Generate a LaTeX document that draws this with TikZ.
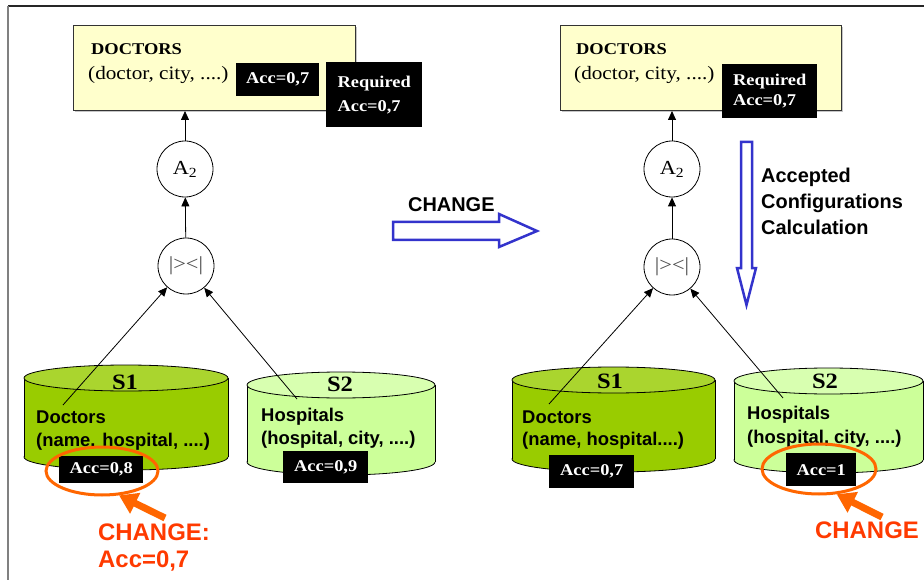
\documentclass[tikz,border=0pt]{standalone}
\usepackage{fontspec}
\setmainfont[FakeStretch=1.12]{Liberation Serif}
\setsansfont{Liberation Sans}
\usetikzlibrary{arrows.meta,shadows,shapes.geometric}

\definecolor{noteyellow}{HTML}{FFFFCC}
\definecolor{srcdark}{HTML}{99CC00}
\definecolor{srcdarktop}{HTML}{AAD52E}
\definecolor{srclight}{HTML}{CCFF99}
\definecolor{srclighttop}{HTML}{D8FFB0}
\definecolor{changeblue}{HTML}{3333CC}
\definecolor{markorange}{HTML}{FF6600}
\definecolor{textorange}{HTML}{FF3A00}

\tikzset{
  relbox/.style={draw=black!80, line width=1bp, fill=noteyellow, anchor=north west,
    inner sep=0pt, drop shadow={shadow xshift=1.5bp, shadow yshift=-1.5bp, opacity=0.45}},
  reltitle/.style={font=\bfseries\fontsize{16.5}{19}\selectfont, anchor=base west, inner sep=0pt},
  relattr/.style={font=\fontsize{19}{22}\selectfont, anchor=base west, inner sep=0pt},
  blackbox/.style={fill=black, text=white, font=\bfseries\fontsize{16.5}{19}\selectfont,
    inner sep=0pt, align=left, anchor=north west},
  opnode/.style={circle, draw, line width=0.8bp, minimum size=56bp, inner sep=0pt,
    fill=white, font=\fontsize{20}{22}\selectfont},
  conn/.style={line width=0.8bp, -{Triangle[length=9bp,width=8bp]}},
  cyltext/.style={font=\sffamily\bfseries\fontsize{18.5}{22}\selectfont, anchor=base west, inner sep=0pt},
  cyllabel/.style={font=\bfseries\fontsize{22}{26}\selectfont, anchor=base, inner sep=0pt},
  hollowarrow/.style={draw=changeblue, line width=2.5bp, fill=white, line join=miter},
  markring/.style={draw=markorange, line width=3bp},
  markarrow/.style={draw=markorange, line width=7bp, -{Triangle[length=18bp,width=22bp]}},
  changetext/.style={text=textorange, font=\sffamily\bfseries\fontsize{24}{28}\selectfont,
    anchor=base west, inner sep=0pt},
  sidetext/.style={font=\sffamily\bfseries\fontsize{20}{24}\selectfont, anchor=base west, inner sep=0pt}
}

% database cylinder: centre x, half width, top rim y, bottom rim y, body colour, lid colour
\newcommand\dbcylinder[6]{%
  \filldraw[fill=#5, line width=0.8bp] (#1,#4) ellipse[x radius=#2, y radius=13];
  \fill[#5] (#1-#2,#3) rectangle (#1+#2,#4);
  \draw[line width=0.8bp] (#1-#2,#3) -- (#1-#2,#4);
  \draw[line width=0.8bp] (#1+#2,#3) -- (#1+#2,#4);
  \filldraw[fill=#6, line width=0.8bp] (#1,#3) ellipse[x radius=#2, y radius=13];
}

\begin{document}
\begin{tikzpicture}[x=1bp, y=-1bp]
\useasboundingbox (0,0) rectangle (924,580);

% slide frame
\draw[line width=1.3bp, black!85] (8,6) -- (924,6);
\draw[line width=1.3bp, black!50] (8,6) -- (8,580);

% ---------------- before the change ----------------
\node[relbox, minimum width=282bp, minimum height=85bp] (doc1) at (73,25) {};
\node[reltitle] (doc1t) at (91,55) {DOCTORS};
\node[relattr] (doc1a) at (88,80) {(doctor, city, ....)};
\node[blackbox, minimum width=83bp, minimum height=33bp, align=center] (acc1) at (236,63) {Acc=0,7};
\node[blackbox, minimum width=96bp, minimum height=65bp] (req1) at (326,62) {Required\\[5bp]Acc=0,7};

\node[opnode] (a21) at (185,169) {A\textsubscript{2}};
\node[opnode, text=black!70] (j1) at (186,266) {|><|};

\dbcylinder{126}{102}{378}{457}{srcdark}{srcdarktop}
\dbcylinder{341}{94}{385}{462}{srclight}{srclighttop}

\node[cyllabel] (s1a) at (125,389) {S1};
\node[cyltext] (s1at) at (36,423) {Doctors};
\node[cyltext] (s1aa) at (36,446) {(name. hospital, ....)};
\node[cyllabel] (s2a) at (340,391) {S2};
\node[cyltext] (s2at) at (261,421) {Hospitals};
\node[cyltext] (s2aa) at (261,444) {(hospital, city, ....)};

\node[blackbox, minimum width=84bp, minimum height=27bp, align=center] (accs1a) at (59,456) {Acc=0,8};
\node[blackbox, minimum width=85bp, minimum height=32bp, align=center] (accs2a) at (283,451) {Acc=0,9};

\coordinate (s1ain) at (63,405);
\coordinate (s2ain) at (297,399);
\draw[conn] (s1ain) -- (j1);
\draw[conn] (s2ain) -- (j1);
\draw[conn] (j1) -- (a21);
\draw[conn] (a21) -- (a21 |- doc1.south);

\node[markring, ellipse, minimum width=112bp, minimum height=48bp, inner sep=0pt] (ring1) at (102,471) {};
\coordinate (mk1) at (165,518);
\draw[markarrow] (mk1) -- (ring1.-55);
\node[changetext] (ch1) at (98,540) {CHANGE:};
\node[changetext] (ch1b) at (98,567) {Acc=0,7};

% ---------------- transition ----------------
\draw[hollowarrow] (393,222) -- (499,222) -- (499,214) -- (537,231) -- (499,247)
  -- (499,240) -- (393,240) -- cycle;
\node[sidetext] (chg) at (408,212) {CHANGE};

\draw[hollowarrow] (741,142) -- (752,142) -- (752,268) -- (756,268) -- (746.5,305)
  -- (737,268) -- (741,268) -- cycle;
\node[sidetext] (acc) at (761,183) {Accepted};
\node[sidetext] (cfg) at (761,209) {Configurations};
\node[sidetext] (calc) at (761,235) {Calculation};

% ---------------- after the change ----------------
\node[relbox, minimum width=281bp, minimum height=85bp] (doc2) at (560,25) {};
\node[reltitle] (doc2t) at (576,55) {DOCTORS};
\node[relattr] (doc2a) at (574,80) {(doctor, city, ....)};
\node[blackbox, minimum width=95bp, minimum height=54bp] (req2) at (722,64) {Required\\[1bp]Acc=0,7};

\node[opnode] (a22) at (672,169) {A\textsubscript{2}};
\node[opnode, text=black!70] (j2) at (672,267) {|><|};

\dbcylinder{613.5}{101.5}{380}{459}{srcdark}{srcdarktop}
\dbcylinder{828.5}{94.5}{381}{460}{srclight}{srclighttop}

\node[cyllabel] (s1b) at (610,388) {S1};
\node[cyltext] (s1bt) at (522,423) {Doctors};
\node[cyltext] (s1ba) at (522,445) {(name, hospital....)};
\node[cyllabel] (s2b) at (825,388) {S2};
\node[cyltext] (s2bt) at (747,419) {Hospitals};
\node[cyltext] (s2ba) at (747,443) {(hospital, city, ....)};

\node[blackbox, minimum width=85bp, minimum height=33bp, align=center] (accs1b) at (549,455) {Acc=0,7};
\node[blackbox, minimum width=70bp, minimum height=33bp, align=center] (accs2b) at (786,453) {Acc=1};

\coordinate (s1bin) at (549,404);
\coordinate (s2bin) at (783,398);
\draw[conn] (s1bin) -- (j2);
\draw[conn] (s2bin) -- (j2);
\draw[conn] (j2) -- (a22);
\draw[conn] (a22) -- (a22 |- doc2.south);

\node[markring, ellipse, minimum width=114bp, minimum height=50bp, inner sep=0pt] (ring2) at (819,469) {};
\coordinate (mk2) at (882,517);
\draw[markarrow] (mk2) -- (ring2.-55);
\node[changetext] (ch2) at (815,538) {CHANGE};
\end{tikzpicture}
\end{document}
